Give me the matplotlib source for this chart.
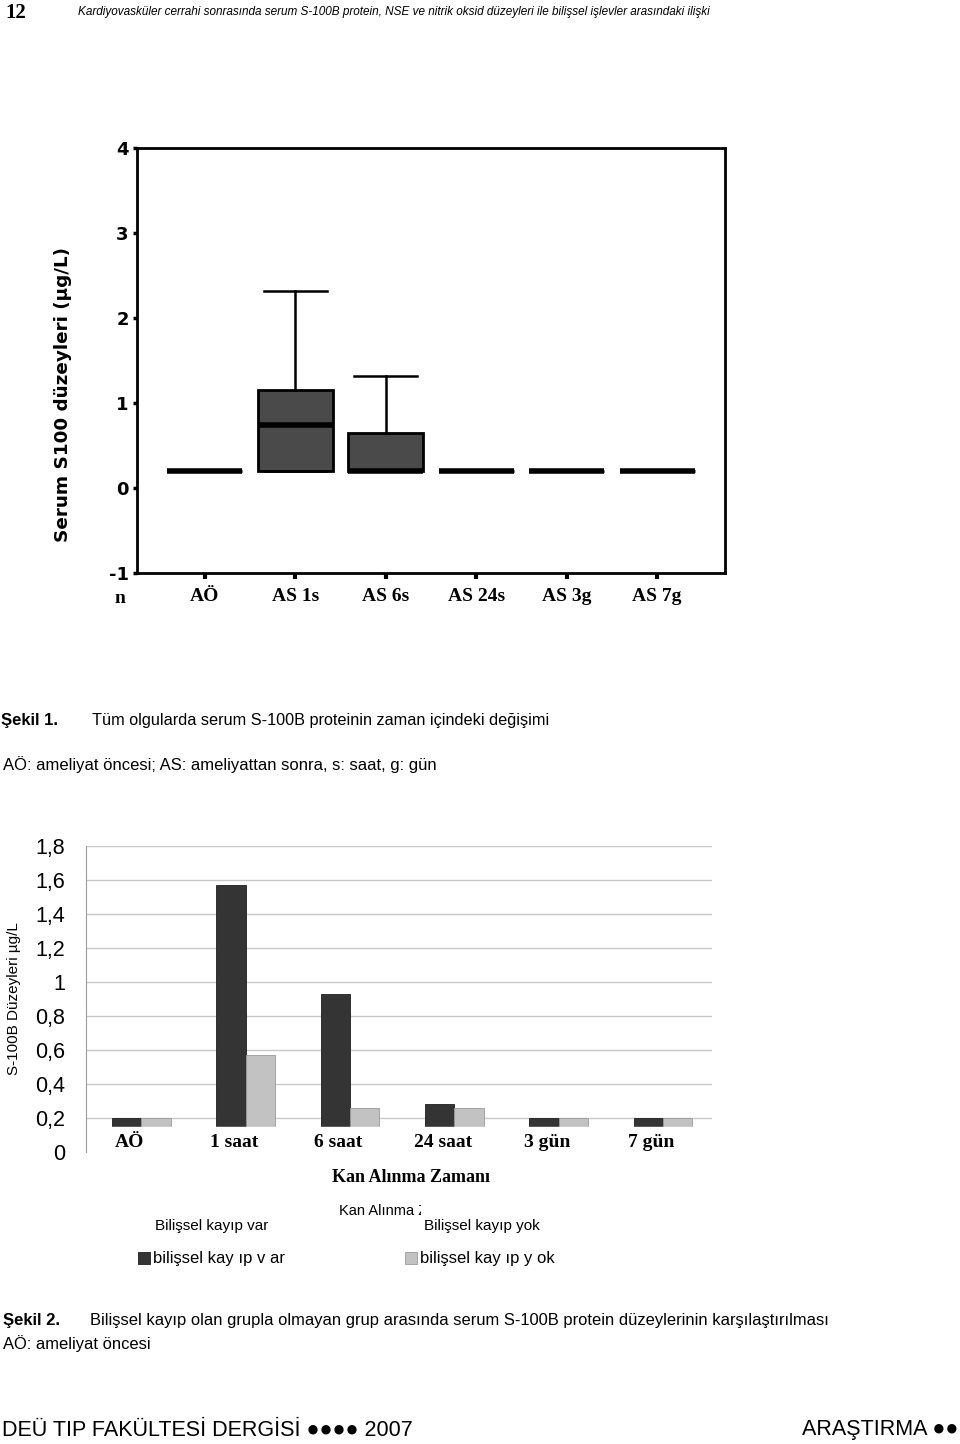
import matplotlib
matplotlib.use('Agg')
import matplotlib.pyplot as plt
import numpy as np
from matplotlib.transforms import Bbox, TransformedBbox

# Sekil 1: box plot summary
box_names = ['AÖ', 'AS 1s', 'AS 6s', 'AS 24s', 'AS 3g', 'AS 7g']
box_q1 = [0.2, 0.2, 0.2, 0.2, 0.2, 0.2]
box_med = [0.2, 0.74, 0.2, 0.2, 0.2, 0.2]
box_q3 = [0.2, 1.15, 0.65, 0.2, 0.2, 0.2]
box_lo = [0.2, 0.2, 0.2, 0.2, 0.2, 0.2]
box_hi = [0.2, 2.32, 1.32, 0.2, 0.2, 0.2]
box_yticks = [-1, 0, 1, 2, 3, 4]

# Sekil 2: mean S-100B per group
times = ['AÖ', '1 saat', '6 saat', '24 saat', '3 gün', '7 gün']
kayip_var = [0.2, 1.57, 0.93, 0.28, 0.2, 0.2]
kayip_yok = [0.2, 0.57, 0.26, 0.26, 0.2, 0.2]
bar_yticks = [0, 0.2, 0.4, 0.6, 0.8, 1.0, 1.2, 1.4, 1.6, 1.8]
bar_ylabels = ['0', '0,2', '0,4', '0,6', '0,8', '1', '1,2', '1,4', '1,6', '1,8']

W, H = 960, 1444
SANS = ['Liberation Sans', 'DejaVu Sans']
SERIF = ['Liberation Serif', 'DejaVu Serif']

fig = plt.figure(figsize=(9.6, 14.44), dpi=100)
fig.patch.set_facecolor('white')

def fx(px):
    return px / W

def fy(py):
    return 1 - py / H

# ---- header
fig.text(fx(5), fy(13), '12', family=SERIF, weight='bold', fontsize=15, va='center')
fig.text(fx(78), fy(12), 'Kardiyovasküler cerrahi sonrasında serum S-100B protein, NSE ve nitrik oksid '
         'düzeyleri ile bilişsel işlevler arasındaki ilişki', family=SANS, style='italic',
         fontsize=8.5, va='center')

# ---- Sekil 1 : boxplot
ax1 = fig.add_axes([fx(137), fy(573), fx(725 - 137), (573 - 148) / H])
stats = []
for i in range(len(box_names)):
    stats.append(dict(med=box_med[i], q1=box_q1[i], q3=box_q3[i],
                      whislo=box_lo[i], whishi=box_hi[i], fliers=[]))
pos = np.arange(1, len(box_names) + 1)
ax1.bxp(stats, positions=pos, widths=0.83, patch_artist=True, showfliers=False,
        boxprops=dict(facecolor='#4a4a4a', edgecolor='black', linewidth=2),
        medianprops=dict(color='black', linewidth=4, solid_capstyle='butt'),
        whiskerprops=dict(color='black', linewidth=1.8),
        capprops=dict(color='black', linewidth=1.8), capwidths=0.7)
ax1.set_xlim(0.25, 6.75)
ax1.set_ylim(-1, 4)
ax1.set_yticks(box_yticks)
ax1.set_yticklabels([str(v) for v in box_yticks], family=['DejaVu Sans'], weight='bold', fontsize=13)
ax1.set_xticks(pos)
ax1.set_xticklabels(box_names, family=SERIF, weight='bold', fontsize=14)
ax1.tick_params(axis='x', direction='out', length=4, width=3, pad=7)
ax1.tick_params(axis='y', direction='out', length=3, width=2.5, pad=3)
for s in ax1.spines.values():
    s.set_linewidth(2)
ax1.set_ylabel('Serum S100 düzeyleri (µg/L)', family=['DejaVu Sans'], weight='bold', fontsize=13.2)
ax1.yaxis.set_label_coords(-0.11, 0.42)
ax1.text(0.06, -0.04, 'n', transform=ax1.get_xaxis_transform(), family=SERIF,
         weight='bold', fontsize=14, ha='center', va='top')

fig.text(fx(1), fy(720), 'Şekil 1.', family=SANS, weight='bold', fontsize=12, va='center')
fig.text(fx(92), fy(720), 'Tüm olgularda serum S-100B proteinin zaman içindeki değişimi',
         family=SANS, fontsize=11.7, va='center')
fig.text(fx(3), fy(765), 'AÖ: ameliyat öncesi; AS: ameliyattan sonra, s: saat, g: gün',
         family=SANS, fontsize=12, va='center')

# ---- Sekil 2 : grouped bars
ax2 = fig.add_axes([fx(86), fy(1152), fx(712 - 86), (1152 - 846) / H])
x = np.arange(len(times))
w = 0.28
b1 = ax2.bar(x - w / 2 + 0.03, kayip_var, w, color='#343434', edgecolor='#1e1e1e', linewidth=0.6, zorder=2)
b2 = ax2.bar(x + w / 2 + 0.03, kayip_yok, w, color='#c2c2c2', edgecolor='#9a9a9a', linewidth=0.6, zorder=2)
# white label strip pasted over the bar feet, as in the original
ax2.axhspan(0, 0.148, color='white', zorder=3)
ax2.set_xlim(-0.5, 5.5)
ax2.set_ylim(0, 1.8)
ax2.set_yticks(bar_yticks)
ax2.set_yticklabels(bar_ylabels, family=SANS, fontsize=15.5)
ax2.yaxis.grid(True, color='#c8c8c8', linewidth=1)
ax2.set_axisbelow(True)
ax2.tick_params(axis='y', length=0, pad=15)
ax2.set_xticks(x - 0.08)
ax2.set_xticklabels(times, family=SERIF, weight='bold', fontsize=14)
ax2.tick_params(axis='x', length=0, pad=-13)
ax2.xaxis.set_zorder(5)
for k in ['top', 'right', 'bottom']:
    ax2.spines[k].set_visible(False)
ax2.spines['left'].set_color('#9a9a9a')
ax2.spines['left'].set_zorder(5)
ax2.set_ylabel('S-100B Düzeyleri µg/L', family=SANS, fontsize=11)
ax2.yaxis.set_label_coords(-0.104, 0.5)

fig.text(fx(411), fy(1178), 'Kan Alınma Zamanı', family=SERIF, weight='bold', fontsize=13,
         ha='center', va='center')
t = fig.text(fx(339), fy(1211), 'Kan Alınma Zamanı', family=SANS, fontsize=10.5, va='center')
t.set_clip_box(TransformedBbox(Bbox([[fx(330), fy(1230)], [fx(421), fy(1195)]]), fig.transFigure))
fig.text(fx(212), fy(1226), 'Bilişsel kayıp var', family=SANS, fontsize=11, ha='center', va='center')
fig.text(fx(482), fy(1226), 'Bilişsel kayıp yok', family=SANS, fontsize=11, ha='center', va='center')
fig.legend(handles=[b1, b2], labels=['bilişsel kay ıp v ar', 'bilişsel kay ıp y ok'],
           loc='center left', bbox_to_anchor=(fx(138), fy(1259)), ncol=2, frameon=False,
           prop=dict(family=SANS, size=12), handlelength=0.72, handleheight=0.72,
           handletextpad=0.2, columnspacing=7.15, borderpad=0, borderaxespad=0)

fig.text(fx(3), fy(1321), 'Şekil 2.', family=SANS, weight='bold', fontsize=12, va='center')
fig.text(fx(90), fy(1321), 'Bilişsel kayıp olan grupla olmayan grup arasında serum S-100B protein '
         'düzeylerinin karşılaştırılması', family=SANS, fontsize=11.9, va='center')
fig.text(fx(3), fy(1344), 'AÖ: ameliyat öncesi', family=SANS, fontsize=11.9, va='center')

# ---- footer
fig.text(fx(2), fy(1430), 'DEÜ TIP FAKÜLTESİ DERGİSİ ●●●● 2007', family=SANS, fontsize=15.5,
         va='center')
fig.text(fx(958), fy(1430), 'ARAŞTIRMA ●●', family=SANS, fontsize=15.5, va='center', ha='right')

fig.savefig('out.png', dpi=100)
